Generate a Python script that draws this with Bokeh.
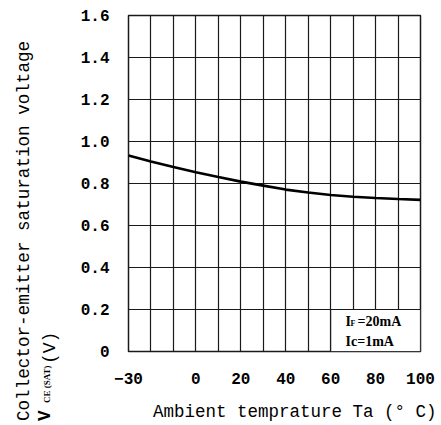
from bokeh.plotting import figure
from bokeh.models import FixedTicker, Label, BoxAnnotation, Div
from bokeh.layouts import row, column
from bokeh.embed import file_html
from bokeh.resources import INLINE

# Data
temps = [-30, -20, -10, 0, 10, 20, 30, 40, 50, 60, 70, 80, 90, 100]
vce_sat = [0.933, 0.905, 0.879, 0.854, 0.831, 0.809, 0.790, 0.771, 0.757, 0.745, 0.737, 0.731, 0.726, 0.722]
x_tick_vals = [-30, 0, 20, 40, 60, 80, 100]
x_grid_vals = [-30, -20, -10, 0, 10, 20, 30, 40, 50, 60, 70, 80, 90, 100]
y_tick_vals = [0, 0.2, 0.4, 0.6, 0.8, 1.0, 1.2, 1.4, 1.6]
y_tick_labels = ["0", "0.2", "0.4", "0.6", "0.8", "1.0", "1.2", "1.4", "1.6"]
note_box_x = (60, 100)
note_box_y = (0, 0.2)

y_title_line1 = "Collector-emitter saturation voltage"
y_title_sym = "V"
y_title_sub = "CE (SAT)"
y_title_unit = "(V)"
x_title = "Ambient temprature Ta (° C)"

MONO = "Liberation Mono"
SERIF = "Liberation Serif"
GRID = "#1a1a1a"

p = figure(width=378, height=398, x_range=(-30, 100), y_range=(0, 1.6),
           output_backend="svg", toolbar_location=None,
           min_border_left=66, min_border_right=20, min_border_top=15, min_border_bottom=47)

p.line(temps, vce_sat, line_color="black", line_width=2.6)

# grid
p.xgrid.ticker = FixedTicker(ticks=x_grid_vals)
p.ygrid.ticker = FixedTicker(ticks=y_tick_vals)
for g in (p.xgrid, p.ygrid):
    g.grid_line_color = GRID
    g.grid_line_alpha = 1.0
    g.grid_line_width = 1.2

p.outline_line_color = GRID
p.outline_line_width = 1.5
p.outline_line_alpha = 1.0

# axes
p.xaxis.ticker = FixedTicker(ticks=x_tick_vals)
p.yaxis.ticker = FixedTicker(ticks=y_tick_vals)
p.yaxis.major_label_overrides = {v: s for v, s in zip(y_tick_vals, y_tick_labels)}
for ax in (p.xaxis, p.yaxis):
    ax.axis_line_color = None
    ax.major_tick_line_color = None
    ax.minor_tick_line_color = None
    ax.major_tick_out = 0
    ax.major_tick_in = 0
    ax.minor_tick_out = 0
    ax.major_label_text_font = MONO
    ax.major_label_text_font_style = "bold"
    ax.major_label_text_font_size = "16px"
    ax.major_label_text_color = "black"
p.xaxis.major_label_standoff = 21
p.yaxis.major_label_standoff = 19

# note box
p.add_layout(BoxAnnotation(left=note_box_x[0], right=note_box_x[1],
                           bottom=note_box_y[0], top=note_box_y[1],
                           fill_color="white", fill_alpha=1.0,
                           line_color=GRID, line_width=1.2, line_alpha=1.0))


def lab(fig, x, y, text, font=SERIF, size="14px", style="bold"):
    fig.add_layout(Label(x=x, y=y, x_units="screen", y_units="screen",
                         text=text, text_font=font, text_font_style=style,
                         text_font_size=size, text_align="left", text_baseline="middle",
                         text_color="black"))


lab(p, 217, 30, "I")
lab(p, 222, 28, "F", size="8px")
lab(p, 229, 30, "=20mA")
lab(p, 217, 10, "Ic=1mA")


def st(family, size, weight="normal"):
    return f"font-family:'{family}';font-size:{size}px;font-weight:{weight};fill:black"


# y-axis title (two rotated lines, with subscript) as inline SVG text
ysvg = (
    '<svg xmlns="http://www.w3.org/2000/svg" width="62" height="424" style="display:block">'
    f'<text transform="translate(24,421) rotate(-90)" dominant-baseline="central" '
    f'style="{st(MONO, 17.6)}">{y_title_line1}</text>'
    f'<text transform="translate(50,421) rotate(-90)" style="{st(MONO, 17.6, "bold")}">{y_title_sym}</text>'
    f'<text transform="translate(50,403) rotate(-90)" style="{st(SERIF, 9, "bold")}">{y_title_sub}</text>'
    f'<text transform="translate(55,364) rotate(-90)" style="{st(MONO, 18)}">{y_title_unit}</text>'
    '</svg>'
)
ytitle = Div(text=ysvg, width=62, height=424, styles={"margin": "0", "padding": "0"})

# x-axis title as inline SVG text
xsvg = (
    '<svg xmlns="http://www.w3.org/2000/svg" width="378" height="26" style="display:block">'
    f'<text x="91" y="14" dominant-baseline="central" style="{st(MONO, 17.5)}">{x_title}</text>'
    '</svg>'
)
xtitle = Div(text=xsvg, width=378, height=26, styles={"margin": "0", "padding": "0"})

layout = row(ytitle, column(p, xtitle))
open("out.html", "w").write(file_html(layout, INLINE))
